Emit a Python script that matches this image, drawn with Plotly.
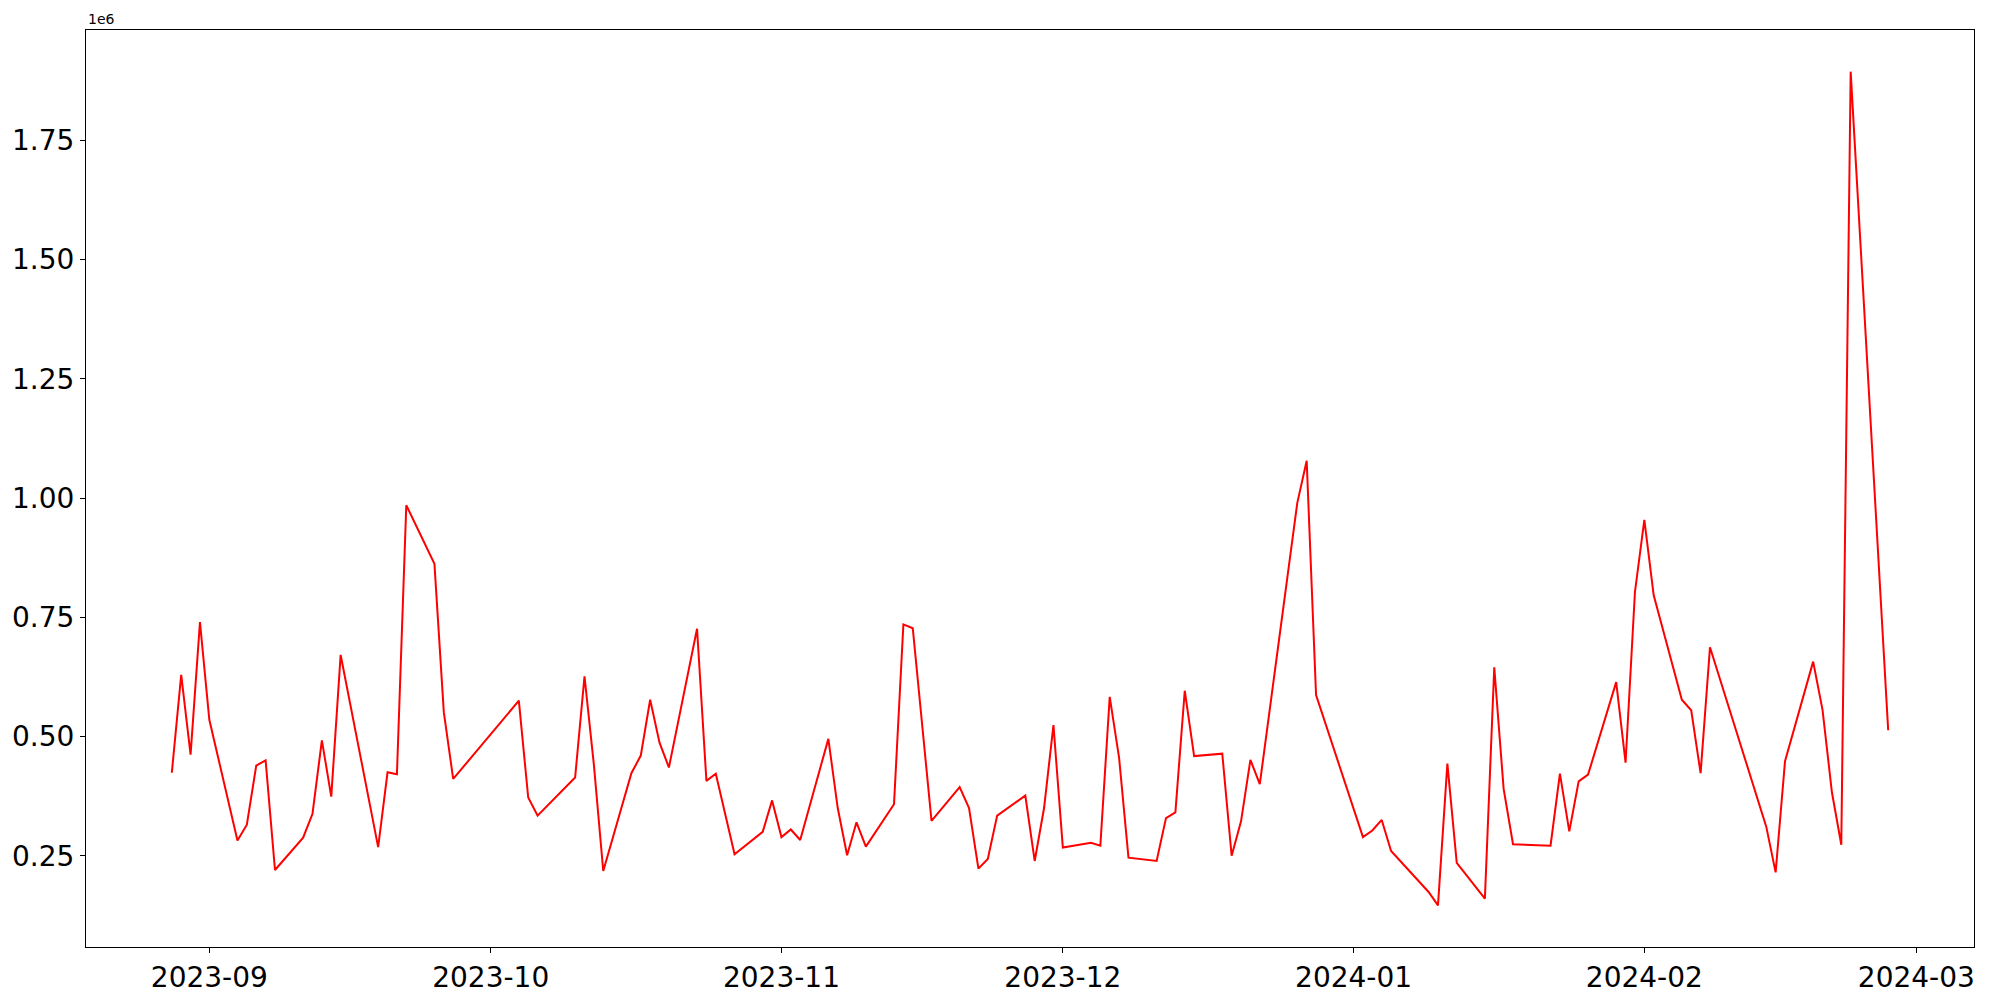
import pandas as pd
import plotly.graph_objects as go

dates = [
    "2023-08-28", "2023-08-29", "2023-08-30", "2023-08-31", "2023-09-01",
    "2023-09-04", "2023-09-05", "2023-09-06", "2023-09-07", "2023-09-08",
    "2023-09-11", "2023-09-12", "2023-09-13", "2023-09-14", "2023-09-15",
    "2023-09-19", "2023-09-20", "2023-09-21", "2023-09-22",
    "2023-09-25", "2023-09-26", "2023-09-27",
    "2023-10-04", "2023-10-05", "2023-10-06",
    "2023-10-10", "2023-10-11", "2023-10-12", "2023-10-13",
    "2023-10-16", "2023-10-17", "2023-10-18", "2023-10-19", "2023-10-20",
    "2023-10-23", "2023-10-24", "2023-10-25", "2023-10-27",
    "2023-10-30", "2023-10-31", "2023-11-01", "2023-11-02", "2023-11-03",
    "2023-11-06", "2023-11-07", "2023-11-08", "2023-11-09", "2023-11-10",
    "2023-11-13", "2023-11-14", "2023-11-15", "2023-11-17",
    "2023-11-20", "2023-11-21", "2023-11-22", "2023-11-23", "2023-11-24",
    "2023-11-27", "2023-11-28", "2023-11-29", "2023-11-30", "2023-12-01",
    "2023-12-04", "2023-12-05", "2023-12-06", "2023-12-07", "2023-12-08",
    "2023-12-11", "2023-12-12", "2023-12-13", "2023-12-14", "2023-12-15",
    "2023-12-18", "2023-12-19", "2023-12-20", "2023-12-21", "2023-12-22",
    "2023-12-26", "2023-12-27", "2023-12-28",
    "2024-01-02", "2024-01-03", "2024-01-04", "2024-01-05",
    "2024-01-09", "2024-01-10", "2024-01-11", "2024-01-12",
    "2024-01-15", "2024-01-16", "2024-01-17", "2024-01-18",
    "2024-01-22", "2024-01-23", "2024-01-24", "2024-01-25", "2024-01-26",
    "2024-01-29", "2024-01-30", "2024-01-31", "2024-02-01", "2024-02-02",
    "2024-02-05", "2024-02-06", "2024-02-07", "2024-02-08",
    "2024-02-14", "2024-02-15", "2024-02-16",
    "2024-02-19", "2024-02-20", "2024-02-21", "2024-02-22", "2024-02-23",
    "2024-02-27",
]

values = [
    424000, 629000, 462000, 740000, 535000,
    282000, 315000, 439000, 450000, 220000,
    288000, 338000, 492000, 374000, 671000,
    268000, 425000, 421000, 985000,
    862000, 551000, 411000,
    575000, 372000, 334000,
    414000, 626000, 441000, 218000,
    423000, 460000, 577000, 487000, 435000,
    726000, 407000, 422000, 253000,
    300000, 366000, 289000, 305000, 283000,
    495000, 350000, 251000, 320000, 269000,
    358000, 735000, 727000, 323000,
    394000, 350000, 223000, 243000, 334000,
    376000, 239000, 350000, 524000, 267000,
    277000, 271000, 583000, 455000, 246000,
    239000, 329000, 341000, 596000, 459000,
    464000, 250000, 322000, 451000, 400000,
    990000, 1078000, 587000,
    289000, 303000, 325000, 260000,
    174000, 146000, 443000, 235000,
    160000, 645000, 390000, 274000,
    271000, 422000, 301000, 406000, 420000,
    614000, 445000, 803000, 954000, 796000,
    577000, 555000, 423000, 687000,
    311000, 215000, 448000,
    657000, 556000, 383000, 273000, 1894000,
    513000,
]

y_tick_vals = [250000, 500000, 750000, 1000000, 1250000, 1500000, 1750000]
y_tick_text = ["0.25", "0.50", "0.75", "1.00", "1.25", "1.50", "1.75"]
offset_label = "1e6"

x = pd.to_datetime(dates)
x_span = x.max() - x.min()
x_range = [x.min() - 0.05 * x_span, x.max() + 0.05 * x_span]
y_span = max(values) - min(values)
y_range = [min(values) - 0.05 * y_span, max(values) + 0.05 * y_span]

fig = go.Figure()
fig.add_trace(go.Scatter(
    x=x, y=values, mode="lines",
    line=dict(color="red", width=2),
    showlegend=False,
))

font_family = "DejaVu Sans"
fig.update_layout(
    width=1992, height=992,
    margin=dict(l=78, r=26, t=22, b=53, autoexpand=False),
    paper_bgcolor="white", plot_bgcolor="white",
    font=dict(family=font_family, color="black", size=28),
)
fig.update_xaxes(
    range=x_range, type="date", automargin=False,
    tick0="2023-09-01", dtick="M1", tickformat="%Y-%m",
    showgrid=False, zeroline=False,
    showline=True, linecolor="black", linewidth=1, mirror=True,
    ticks="outside", ticklen=5, tickwidth=1, tickcolor="black",
    tickfont=dict(size=28, family=font_family, color="black"),
)
fig.update_yaxes(
    range=y_range, automargin=False,
    tickmode="array", tickvals=y_tick_vals, ticktext=y_tick_text,
    showgrid=False, zeroline=False,
    showline=True, linecolor="black", linewidth=1, mirror=True,
    ticks="outside", ticklen=5, tickwidth=1, tickcolor="black",
    tickfont=dict(size=28, family=font_family, color="black"),
)
fig.add_annotation(
    text=offset_label, xref="paper", yref="paper", x=0, y=1,
    xanchor="left", yanchor="bottom", showarrow=False,
    font=dict(size=14, family=font_family, color="black"),
    yshift=1,
)

fig.write_html("out.html")
